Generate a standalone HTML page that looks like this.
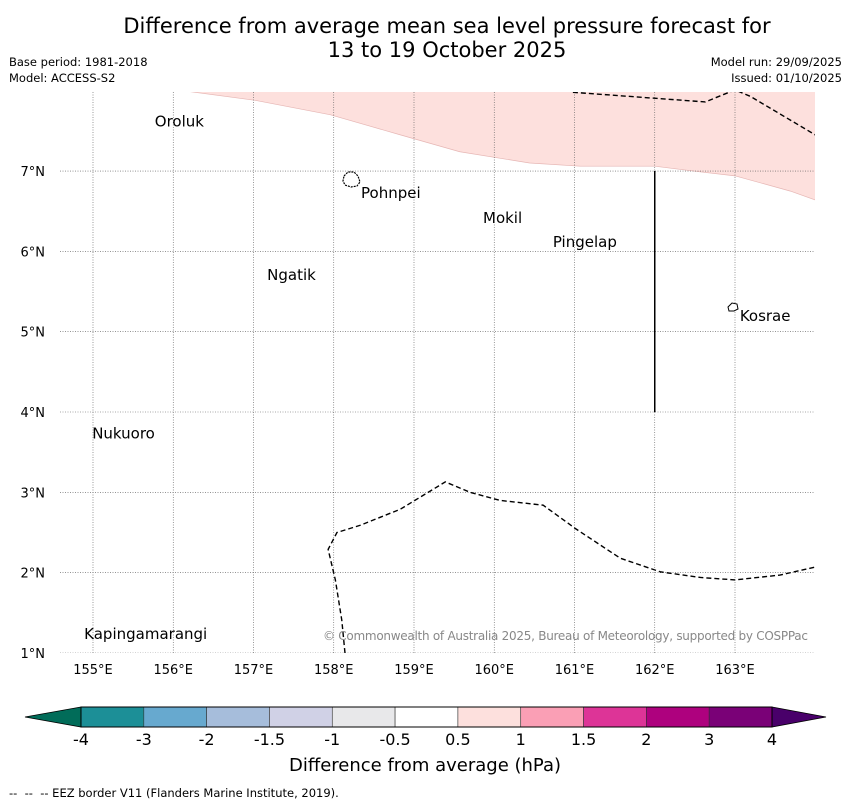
<!DOCTYPE html>
<html><head><meta charset="utf-8"><style>
body{margin:0;background:#fff;font-family:"Liberation Sans","DejaVu Sans",sans-serif}
#wrap{position:relative;width:850px;height:804px;overflow:hidden}
.t{position:absolute;white-space:nowrap;color:#000}
</style></head><body>
<div id="wrap">
<div class="t" style="left:0;width:894px;top:14px;text-align:center;font-size:21px;line-height:24px;font-family:'DejaVu Sans',sans-serif">Difference from average mean sea level pressure forecast for<br>13 to 19 October 2025</div>
<div class="t" style="left:9px;top:55px;font-size:11.5px;font-family:'DejaVu Sans',sans-serif">Base period: 1981-2018</div>
<div class="t" style="left:9px;top:71px;font-size:11.5px;font-family:'DejaVu Sans',sans-serif">Model: ACCESS-S2</div>
<div class="t" style="right:8px;top:55px;font-size:11.5px;font-family:'DejaVu Sans',sans-serif">Model run: 29/09/2025</div>
<div class="t" style="right:8px;top:71px;font-size:11.5px;font-family:'DejaVu Sans',sans-serif">Issued: 01/10/2025</div>
<svg id="svg" width="850" height="804" style="position:absolute;left:0;top:0"></svg>
<div class="t" style="left:0;width:850px;top:755px;text-align:center;font-size:18px;font-family:'DejaVu Sans',sans-serif">Difference from average (hPa)</div>
<div class="t" style="left:9px;top:786px;font-size:11.5px;font-family:'DejaVu Sans',sans-serif">-- &nbsp;-- &nbsp;-- EEZ border V11 (Flanders Marine Institute, 2019).</div>
</div>
<script>
const lonTicks=[155,156,157,158,159,160,161,162,163];
const latTicks=[1,2,3,4,5,6,7];
const pinkLon=[156.12,157.02,157.96,158.83,159.57,160.44,161.07,162.0,162.56,163.0,163.69,164.0];
const pinkLat=[8.0,7.88,7.70,7.45,7.24,7.10,7.06,7.06,6.99,6.94,6.75,6.64];
const eezTopLon=[160.98,162.63,163.0,163.19,164.0];
const eezTopLat=[7.98,7.86,8.01,7.93,7.45];
const eezBotLon=[158.14,158.10,158.02,157.93,158.04,158.33,158.83,159.39,159.70,160.07,160.61,161.01,161.57,162.07,162.57,163.0,163.56,164.0];
const eezBotLat=[1.0,1.41,1.91,2.29,2.50,2.59,2.79,3.13,3.00,2.90,2.84,2.55,2.18,2.01,1.94,1.91,1.97,2.07];
const places=["Oroluk","Pohnpei","Mokil","Pingelap","Ngatik","Kosrae","Nukuoro","Kapingamarangi"];
const placeLon=[155.77,158.34,159.86,160.73,157.17,163.06,154.99,154.89];
const placeLat=[7.64,6.75,6.44,6.14,5.73,5.22,3.76,1.26];
const cbColors=["#1c8f97","#67a9cf","#a6bddb","#d0d1e6","#e8e8ea","#ffffff","#fde0dd","#fa9fb5","#dd3497","#ae017e","#7a0177"];
const cbLabels=["-4","-3","-2","-1.5","-1","-0.5","0.5","1","1.5","2","3","4"];
const X=lon=>93+(lon-155)*80.25, Y=lat=>653-(lat-1)*80.33;
const svg=document.getElementById('svg'),NS='http://www.w3.org/2000/svg';
function mk(tag,attrs,parent){const e=document.createElementNS(NS,tag);for(const k in attrs)e.setAttribute(k,attrs[k]);(parent||svg).appendChild(e);return e;}
const defs=mk('defs',{});const cp=mk('clipPath',{id:'c'},defs);mk('rect',{x:60,y:92,width:755,height:561},cp);
const g=mk('g',{'clip-path':'url(#c)'});

let d='M'+X(pinkLon[0])+','+Y(8.2);
pinkLon.forEach((v,i)=>d+=' L'+X(v)+','+Y(pinkLat[i]));
d+=' L'+X(164.2)+','+Y(pinkLat[pinkLat.length-1])+' L'+X(164.2)+','+Y(8.2)+'Z';
const pk=mk('path',{d:d,fill:'#fde0dd',stroke:'#e6b6b4','stroke-width':0.7},g);

lonTicks.forEach(l=>{const ln=mk('line',{x1:X(l),x2:X(l),y1:92,y2:653,stroke:'#555','stroke-width':0.6,'stroke-dasharray':'1,1.5'},g);
const t=mk('text',{x:X(l),y:674,'text-anchor':'middle','font-size':13,'font-family':'DejaVu Sans, sans-serif'});t.textContent=l+'°E';});
latTicks.forEach(l=>{const ln=mk('line',{x1:60,x2:815,y1:Y(l),y2:Y(l),stroke:'#555','stroke-width':0.6,'stroke-dasharray':'1,1.5'},g);
const t=mk('text',{x:45,y:Y(l)+5,'text-anchor':'end','font-size':13,'font-family':'DejaVu Sans, sans-serif'});t.textContent=l+'°N';});
function poly(lo,la,name){const p=mk('polyline',{points:lo.map((v,i)=>X(v)+','+Y(la[i])).join(' '),fill:'none',stroke:'#000','stroke-width':1.4,'stroke-dasharray':'5,3'},g);}
poly(eezTopLon,eezTopLat,'eez-border-north');poly(eezBotLon,eezBotLat,'eez-border-south');
const vl=mk('line',{x1:X(162),x2:X(162),y1:Y(7),y2:Y(4),stroke:'#000','stroke-width':1.5},g);

const isl1=mk('path',{d:'M344,176 l4,-4 l6,0 l4,4 l2,6 l-3,4 l-6,1 l-6,-2 l-2,-4z',fill:'#fff',stroke:'#000','stroke-width':1.2,'stroke-dasharray':'2,1'},g);

const isl2=mk('path',{d:'M728,307 l4,-4 l5,1 l1,5 l-4,2 l-5,0z',fill:'#fff',stroke:'#000','stroke-width':1},g);

places.forEach((p,i)=>{const t=mk('text',{x:X(placeLon[i]),y:Y(placeLat[i])+7,'font-size':15,'font-family':'DejaVu Sans, sans-serif'},g);t.textContent=p;});
const cr=mk('text',{x:808,y:640,'text-anchor':'end','font-size':12,fill:'#888','font-family':'DejaVu Sans, sans-serif','textLength':485});
cr.textContent='© Commonwealth of Australia 2025, Bureau of Meteorology, supported by COSPPac';

const cx0=81,cx1=772,cy=707,ch=20,w=(cx1-cx0)/cbColors.length;
const lt=mk('polygon',{points:`${cx0},${cy} 25,${cy+ch/2} ${cx0},${cy+ch}`,fill:'#016c59',stroke:'#000','stroke-width':0.8});

const rt=mk('polygon',{points:`${cx1},${cy} 826,${cy+ch/2} ${cx1},${cy+ch}`,fill:'#49006a',stroke:'#000','stroke-width':0.8});

cbColors.forEach((c,i)=>{const r=mk('rect',{x:cx0+i*w,y:cy,width:w,height:ch,fill:c,stroke:'#333','stroke-width':0.6});});
mk('rect',{x:cx0,y:cy,width:cx1-cx0,height:ch,fill:'none',stroke:'#000','stroke-width':1});
cbLabels.forEach((l,i)=>{const t=mk('text',{x:cx0+i*w,y:745,'text-anchor':'middle','font-size':16,'font-family':'DejaVu Sans, sans-serif'});t.textContent=l;});
</script>
</body></html>
